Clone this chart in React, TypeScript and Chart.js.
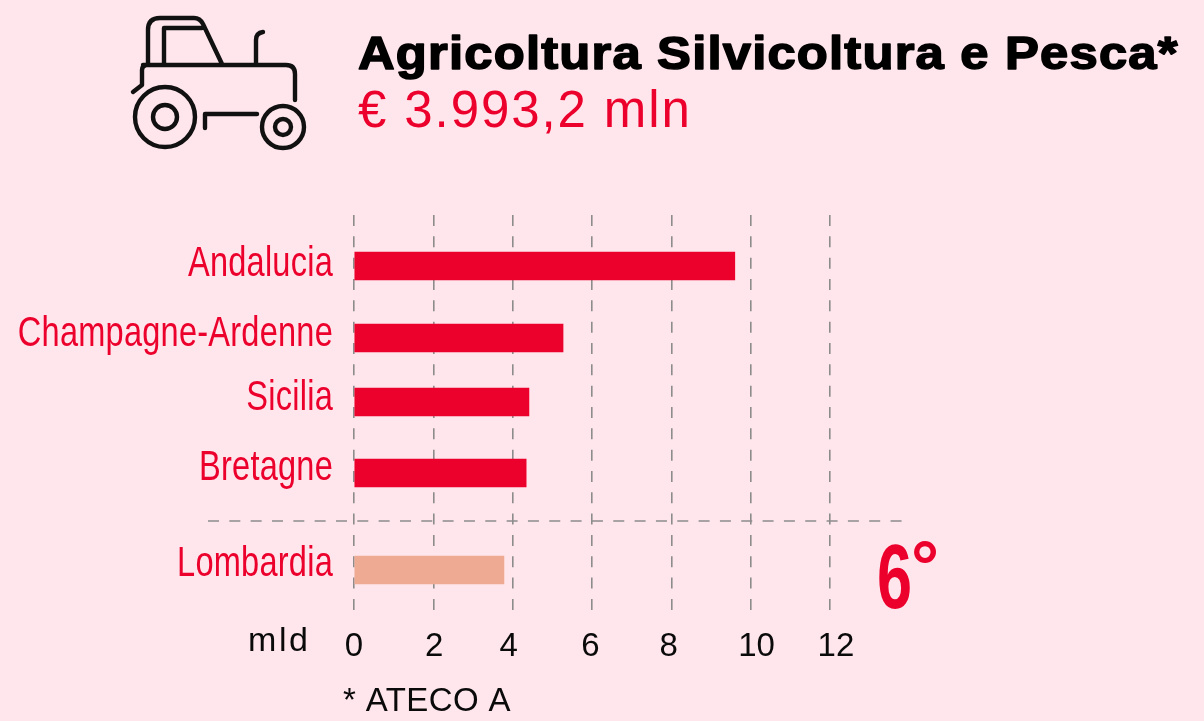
import React, { useEffect, useRef } from "react";
import { Chart, registerables } from "chart.js";

Chart.register(...registerables);

const regions = ["Andalucia", "Champagne-Ardenne", "Sicilia", "Bretagne", "Lombardia"];
const values = [9.6, 5.27, 4.41, 4.34, 3.78];
const barRows = [51, 123, 187, 258, 355];
const labelRows = [61, 131, 195, 265, 361];
const separatorRow = 306;
const tickValues = [0, 2, 4, 6, 8, 10, 12];
const tickLabels = ["0", "2", "4", "6", "8", "10", "12"];
const tickLabelPositions = [0, 2.02, 3.9, 5.96, 7.93, 10.15, 12.15];

const RED = "#ec002c";
const PEACH = "#eeaa92";
const BG = "#ffe6ec";
const INK = "#0a0a0a";
const GRID = "#8c8c8c";
const SANS = '"Liberation Sans", Arial, sans-serif';

const decor = {
  id: "decor",
  beforeDraw(chart: any) {
    const c = chart.ctx;
    c.save();
    c.fillStyle = BG;
    c.fillRect(0, 0, chart.width, chart.height);
    c.restore();
  },
  afterDatasetsDraw(chart: any) {
    const c = chart.ctx;
    const y = chart.scales.y;
    c.save();
    c.strokeStyle = GRID;
    c.lineWidth = 1.6;
    c.setLineDash([11, 10.33]);
    const sy = y.getPixelForValue(separatorRow);
    c.beginPath();
    c.moveTo(208, sy);
    c.lineTo(904, sy);
    c.stroke();
    c.setLineDash([]);

    // tractor icon
    c.strokeStyle = "#111";
    c.lineWidth = 4.4;
    c.lineCap = "round";
    c.lineJoin = "round";
    const icon = new Path2D(
      "M148 64 L148 30 Q148 18 160 18 L194 18 Q200 18 203 24 L222 64 " +
        "M164 64 L164 28 L202 28 " +
        "M143 65 L286 65 Q295 65 295 74 L295 100 " +
        "M146 65 Q142 66 142 70 L142 85 L133 92 " +
        "M256 64 L256 40 Q256 33 263 32 " +
        "M205 128 L205 114 L257 114 " +
        "M195 117 A30 30 0 1 1 135 117 A30 30 0 1 1 195 117 " +
        "M177 117 A12 12 0 1 1 153 117 A12 12 0 1 1 177 117 " +
        "M304 127 A21 21 0 1 1 262 127 A21 21 0 1 1 304 127 " +
        "M291 127 A8 8 0 1 1 275 127 A8 8 0 1 1 291 127"
    );
    c.stroke(icon);

    // condensed region labels
    c.textBaseline = "alphabetic";
    c.fillStyle = RED;
    c.textAlign = "right";
    c.font = `42px ${SANS}`;
    c.letterSpacing = "0.3px";
    regions.forEach((name, i) => {
      c.save();
      c.translate(333, y.getPixelForValue(labelRows[i]));
      c.scale(0.775, 1);
      c.fillText(name, 0, 0);
      c.restore();
    });
    c.letterSpacing = "0px";
    c.textAlign = "left";

    // title
    c.fillStyle = "#000";
    c.strokeStyle = "#000";
    c.lineWidth = 1.6;
    c.save();
    c.translate(358, 69);
    c.scale(1.08, 1);
    c.font = `bold 47px ${SANS}`;
    c.letterSpacing = "1.1px";
    c.fillText("Agricoltura Silvicoltura e Pesca*", 0, 0);
    c.strokeText("Agricoltura Silvicoltura e Pesca*", 0, 0);
    c.restore();

    c.fillStyle = RED;
    c.font = `51px ${SANS}`;
    c.letterSpacing = "1.9px";
    c.fillText("€ 3.993,2 mln", 358, 127);

    c.fillStyle = INK;
    c.font = `34px ${SANS}`;
    c.letterSpacing = "2.6px";
    c.fillText("mld", 248, 651);
    c.letterSpacing = "0.4px";
    c.font = `33px ${SANS}`;
    c.fillText("* ATECO A", 343, 711);
    c.letterSpacing = "0px";

    c.fillStyle = RED;
    c.save();
    c.translate(877, 608);
    c.scale(0.7, 1);
    c.font = `bold 90px ${SANS}`;
    c.fillText("6", 0, 0);
    c.restore();
    c.font = `bold 70px ${SANS}`;
    c.fillText("°", 911, 590);
    c.restore();
  },
};

export default function App() {
  const ref = useRef<HTMLCanvasElement>(null);
  useEffect(() => {
    document.body.style.margin = "0";
    document.body.style.background = BG;
    const chart = new Chart(ref.current!, {
      type: "bar",
      data: {
        datasets: [
          {
            data: values.map((v, i) => ({ x: v, y: barRows[i] })),
            backgroundColor: values.map((_, i) => (i === values.length - 1 ? PEACH : RED)),
            barThickness: 28,
            borderWidth: 0,
            xAxisID: "x",
            yAxisID: "y",
          },
        ],
      } as any,
      options: {
        indexAxis: "y",
        responsive: false,
        animation: false,
        layout: { padding: { top: 215, right: 374, left: 0, bottom: 0 } },
        plugins: { legend: { display: false }, tooltip: { enabled: false } },
        scales: {
          x: {
            type: "linear",
            position: "bottom",
            min: 0,
            max: 12,
            afterBuildTicks: (s: any) => {
              s.ticks = tickValues.map((value) => ({ value }));
            },
            afterFit: (s: any) => {
              s.height = 0;
            },
            ticks: { display: false },
            border: { display: false, dash: [11, 10.33] },
            grid: { color: GRID, lineWidth: 1.6, drawTicks: false },
          },
          xLabels: {
            type: "linear",
            position: "bottom",
            min: 0,
            max: 12,
            afterBuildTicks: (s: any) => {
              s.ticks = tickLabelPositions.map((value) => ({ value }));
            },
            afterFit: (s: any) => {
              s.height = 110;
            },
            ticks: {
              autoSkip: false,
              maxRotation: 0,
              padding: 16,
              color: INK,
              font: { family: SANS, size: 33 },
              callback: (_v: any, i: number) => tickLabels[i],
            },
            border: { display: false },
            grid: { display: false, drawTicks: false },
          },
          y: {
            type: "linear",
            reverse: true,
            offset: false,
            min: 0,
            max: 396,
            afterFit: (s: any) => {
              s.width = 354;
            },
            ticks: { display: false },
            border: { display: false },
            grid: { display: false, drawTicks: false },
          },
        },
      },
      plugins: [decor],
    } as any);
    return () => chart.destroy();
  }, []);
  return <canvas ref={ref} width={1204} height={721} style={{ display: "block" }} />;
}
